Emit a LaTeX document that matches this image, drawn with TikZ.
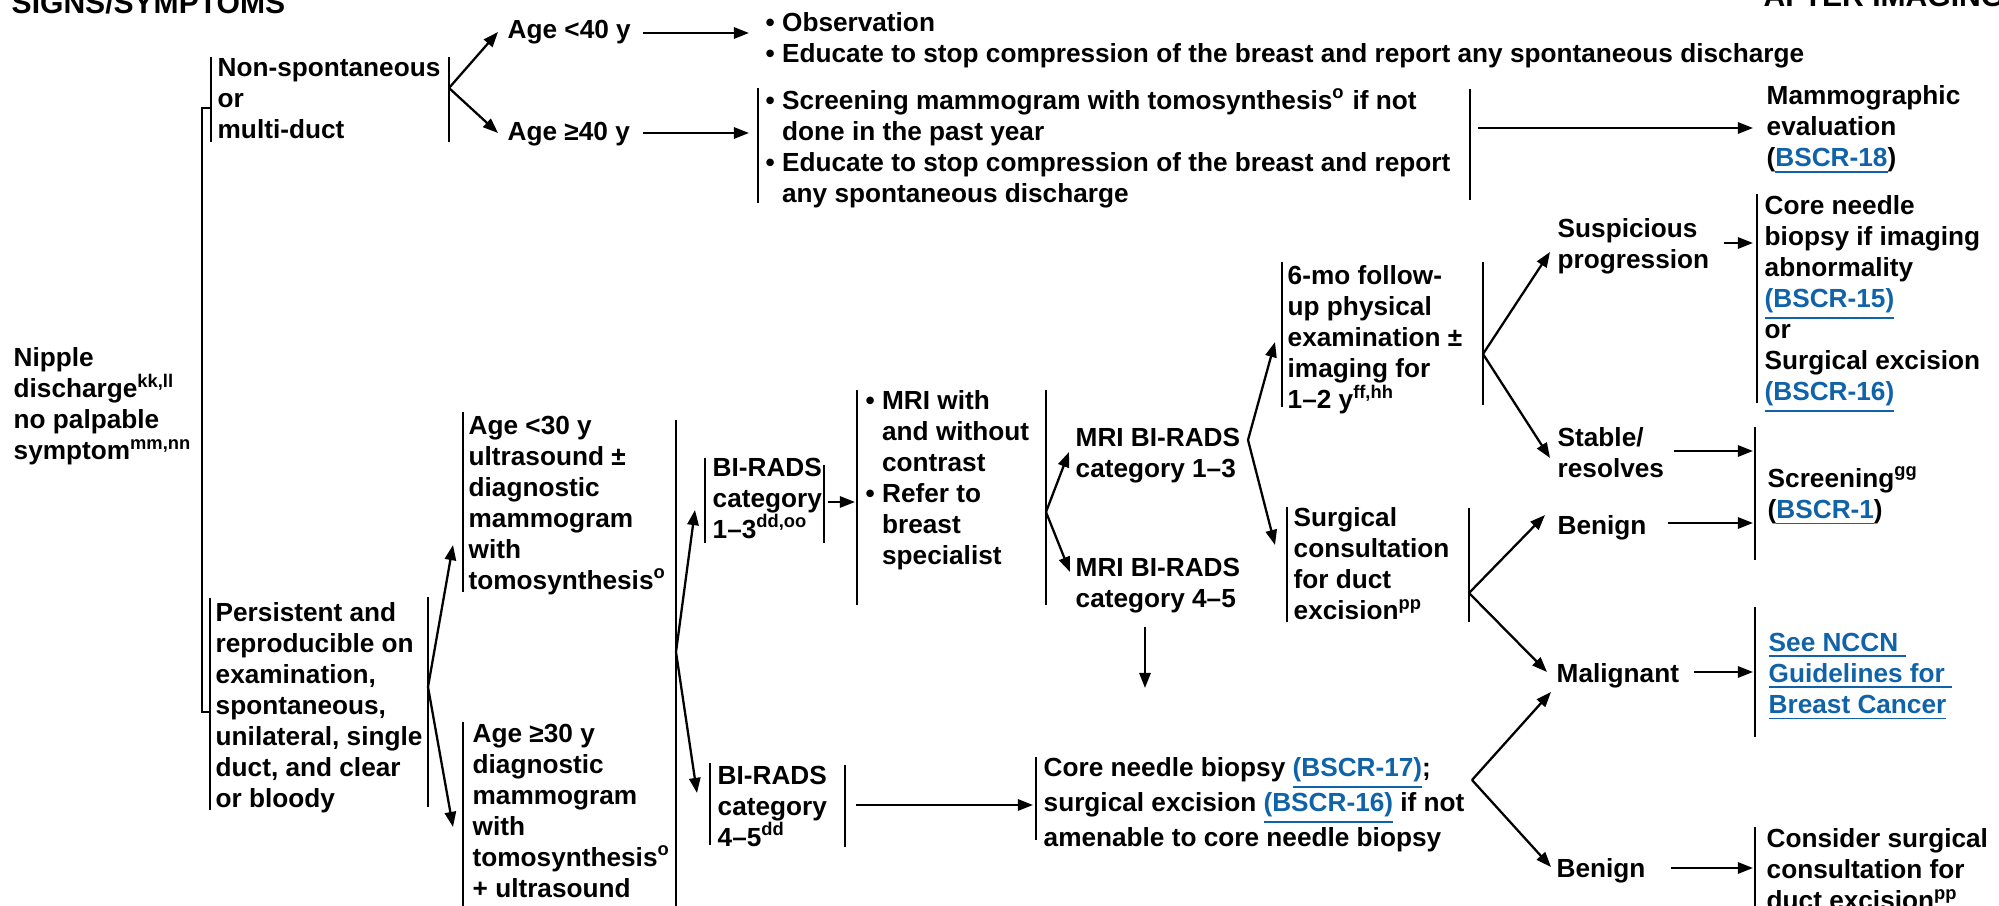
\documentclass[tikz,border=0pt]{standalone}
\usepackage{fontspec}
\setmainfont{Liberation Sans}
\usepackage{tikz}
\usetikzlibrary{arrows.meta}
\definecolor{linkblue}{RGB}{16,99,168}
\newcommand{\lnk}[1]{\textcolor{linkblue}{\underline{#1}}}
\newcommand{\sps}[1]{\textsuperscript{#1}}
\newcommand{\ind}{\phantom{\textbullet\ }}

\begin{document}
\begin{tikzpicture}[x=0.01cm, y=-0.01cm,
  txt/.style={anchor=north west, inner sep=0pt, align=left, font=\fontsize{7.45}{8.82}\selectfont\bfseries},
  head/.style={anchor=base west, inner sep=0pt, font=\fontsize{8.55}{10}\selectfont\bfseries},
  bar/.style={draw=black, line width=0.6pt},
  every edge/.style={draw=black, line width=0.65pt, -{Triangle[length=4.3pt,width=3.2pt]}}]
				\useasboundingbox (0,0) rectangle (1999,906);
				
				\node[head] (sig) at (11,14) {SIGNS/SYMPTOMS};
				\node[head] (aft) at (1763,6) {AFTER IMAGING};
				
				\node[txt] (nip) at (13,347) {Nipple\\discharge\sps{kk,ll}\\no palpable\\symptom\sps{mm,nn}};
				\draw[bar] (210,108) -- (202,108) -- (202,712) -- (210,712);
				
				\node[txt] (non) at (217,58) {Non-spontaneous\\or\\multi-duct};
				\draw[bar] (211,57) -- (211,142);
				\draw[bar] (449,57) -- (449,142);
				\coordinate (nsR) at (449,88);
				
				\node[txt] (a40) at (507,20) {Age <40 y};
				\node[txt] (a40b) at (507,122) {Age ≥40 y};
				\coordinate (a40in) at (498,32);
				\coordinate (a40bin) at (498,133);
				\path (nsR) edge (a40in) (nsR) edge (a40bin);
				
				\node[txt] (obs) at (765,12) {\textbullet\ Observation\\\textbullet\ Educate to stop compression of the breast and report any spontaneous discharge};
				\coordinate (a40out) at (643,33);
				\coordinate (obsin) at (749,33);
				\path (a40out) edge (obsin);
				
				\node[txt] (scr) at (765,88) {\textbullet\ Screening mammogram with tomosynthesis\sps{o} if not\\\ind done in the past year\\\textbullet\ Educate to stop compression of the breast and report\\\ind any spontaneous discharge};
				\draw[bar] (758,88) -- (758,203);
				\draw[bar] (1470,89) -- (1470,200);
				\coordinate (a40bout) at (643,133);
				\coordinate (scrin) at (749,133);
				\path (a40bout) edge (scrin);
				
				\node[txt] (mam) at (1766,85) {Mammographic\\evaluation\\(\lnk{BSCR-18})};
				\coordinate (scrout) at (1478,128);
				\coordinate (mamin) at (1753,128);
				\path (scrout) edge (mamin);
				
				\node[txt] (per) at (215,602) {Persistent and\\reproducible on\\examination,\\spontaneous,\\unilateral, single\\duct, and clear\\or bloody};
				\draw[bar] (210,598) -- (210,810);
				\draw[bar] (428,597) -- (428,807);
				\coordinate (perR) at (428,687);
				
				\node[txt] (a30) at (468,415) {Age <30 y\\ultrasound ±\\diagnostic\\mammogram\\with\\tomosynthesis\sps{o}};
				\node[txt] (a30b) at (472,723) {Age ≥30 y\\diagnostic\\mammogram\\with\\tomosynthesis\sps{o}\\+ ultrasound};
				\draw[bar] (463,412) -- (463,592);
				\draw[bar] (463,722) -- (463,906);
				\draw[bar] (676,420) -- (676,906);
				\coordinate (a30in) at (453,545);
				\coordinate (a30bin) at (453,827);
				\path (perR) edge (a30in) (perR) edge (a30bin);
				
				\node[txt] (bi13) at (712,457) {BI-RADS\\category\\1--3\sps{dd,oo}};
				\draw[bar] (705,458) -- (705,543);
				\draw[bar] (824,465) -- (824,543);
				\node[txt] (bi45) at (717,765) {BI-RADS\\category\\4--5\sps{dd}};
				\draw[bar] (710,763) -- (710,845);
				\draw[bar] (845,765) -- (845,847);
				\coordinate (ageR) at (676,652);
				\coordinate (bi13in) at (695,510);
				\coordinate (bi45in) at (697,793);
				\path (ageR) edge (bi13in) (ageR) edge (bi45in);
				
				\node[txt] (mri) at (865,390) {\textbullet\ MRI with\\\ind and without\\\ind contrast\\\textbullet\ Refer to\\\ind breast\\\ind specialist};
				\draw[bar] (857,390) -- (857,605);
				\draw[bar] (1046,390) -- (1046,605);
				\coordinate (bi13out) at (828,502);
				\coordinate (mriin) at (855,502);
				\path (bi13out) edge (mriin);
				
				\node[txt] (m13) at (1075,427) {MRI BI-RADS\\category 1--3};
				\node[txt] (m45) at (1075,557) {MRI BI-RADS\\category 4--5};
				\coordinate (mriR) at (1046,512);
				\coordinate (m13in) at (1069,452);
				\coordinate (m45in) at (1070,572);
				\path (mriR) edge (m13in) (mriR) edge (m45in);
				
				\node[txt] (cnb2) at (1043,757) {Core needle biopsy \lnk{(BSCR-17)};\\surgical excision \lnk{(BSCR-16)} if not\\amenable to core needle biopsy};
				\draw[bar] (1036,757) -- (1036,840);
				\coordinate (bi45out) at (856,805);
				\coordinate (cnb2in) at (1033,805);
				\path (bi45out) edge (cnb2in);
				\coordinate (m45out) at (1145,627);
				\coordinate (m45end) at (1145,688);
				\path (m45out) edge (m45end);
				
				\node[txt] (six) at (1287,265) {6-mo follow-\\up physical\\examination ±\\imaging for\\1--2 y\sps{ff,hh}};
				\draw[bar] (1282,262) -- (1282,407);
				\draw[bar] (1483,262) -- (1483,405);
				\node[txt] (sur) at (1293,507) {Surgical\\consultation\\for duct\\excision\sps{pp}};
				\draw[bar] (1287,507) -- (1287,622);
				\draw[bar] (1469,508) -- (1469,622);
				\coordinate (m13R) at (1248,440);
				\coordinate (sixin) at (1275,342);
				\coordinate (surin) at (1275,545);
				\path (m13R) edge (sixin) (m13R) edge (surin);
				
				\node[txt] (sus) at (1557,218) {Suspicious\\progression};
				\node[txt] (stb) at (1557,427) {Stable/\\resolves};
				\coordinate (sixR) at (1483,354);
				\coordinate (susin) at (1550,252);
				\coordinate (stbin) at (1550,458);
				\path (sixR) edge (susin) (sixR) edge (stbin);
				
				\node[txt] (ben1) at (1557,515) {Benign};
				\node[txt] (mal) at (1556,663) {Malignant};
				\node[txt] (ben2) at (1556,858) {Benign};
				\coordinate (surR) at (1469,593);
				\coordinate (ben1in) at (1545,515);
				\coordinate (mal1in) at (1547,672);
				\path (surR) edge (ben1in) (surR) edge (mal1in);
				\coordinate (cnbR) at (1472,780);
				\coordinate (mal2in) at (1551,692);
				\coordinate (ben2in) at (1551,867);
				\path (cnbR) edge (mal2in) (cnbR) edge (ben2in);
				
				\node[txt] (cnb) at (1764,195) {Core needle\\biopsy if imaging\\abnormality\\\lnk{(BSCR-15)}\\or\\Surgical excision\\\lnk{(BSCR-16)}};
				\draw[bar] (1757,194) -- (1757,403);
				\node[txt] (scn) at (1767,466) {Screening\sps{gg}\\(\lnk{BSCR-1})};
				\draw[bar] (1755,427) -- (1755,560);
				\node[txt] (nccn) at (1768,632) {\lnk{See NCCN\ }\\\lnk{Guidelines for\ }\\\lnk{Breast Cancer}};
				\draw[bar] (1755,607) -- (1755,737);
				\node[txt] (con) at (1766,828) {Consider surgical\\consultation for\\duct excision\sps{pp}};
				\draw[bar] (1755,827) -- (1755,906);
				
				\coordinate (susout) at (1724,243);
				\coordinate (cnbin) at (1753,243);
				\coordinate (stbout) at (1674,451);
				\coordinate (scnin1) at (1753,451);
				\coordinate (ben1out) at (1668,523);
				\coordinate (scnin2) at (1753,523);
				\coordinate (malout) at (1694,672);
				\coordinate (nccnin) at (1753,672);
				\coordinate (ben2out) at (1671,868);
				\coordinate (conin) at (1753,868);
				\path (susout) edge (cnbin) (stbout) edge (scnin1) (ben1out) edge (scnin2);
				\path (malout) edge (nccnin) (ben2out) edge (conin);
\end{tikzpicture}
\end{document}
